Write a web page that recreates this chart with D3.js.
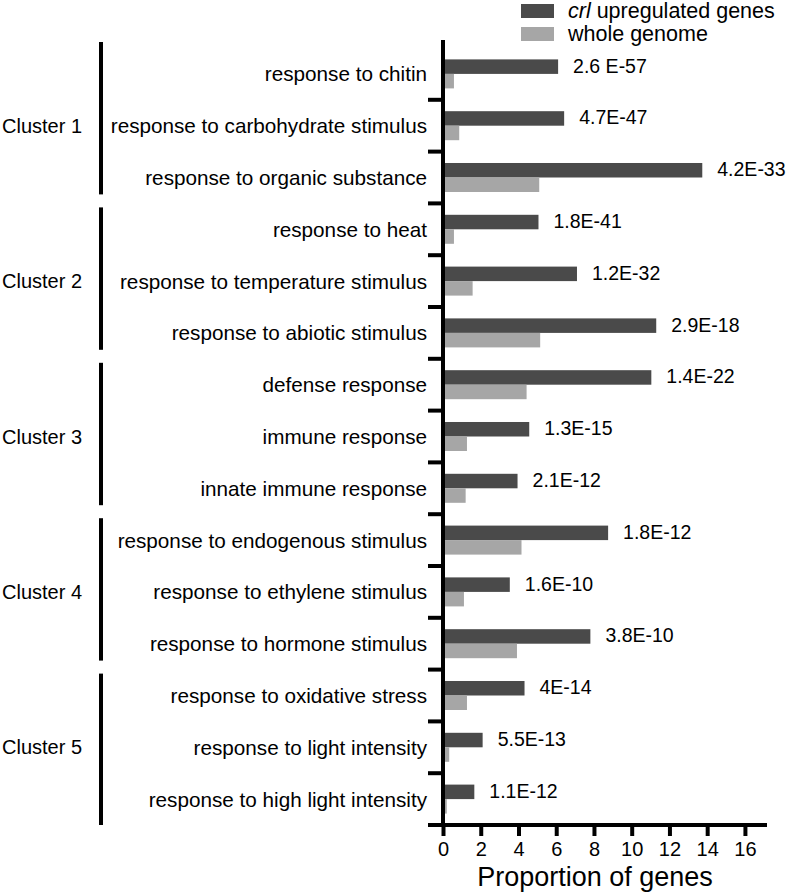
<!DOCTYPE html>
<html>
<head>
<meta charset="utf-8">
<script src="https://cdn.jsdelivr.net/npm/d3@7"></script>
<style>
  html, body { margin: 0; padding: 0; background: #fff; }
  svg text { font-family: "Liberation Sans", Arial, Helvetica, sans-serif; fill: #000; }
</style>
</head>
<body>
<svg id="chart" width="793" height="894"></svg>
<script>
const categories = [
  "response to chitin",
  "response to carbohydrate stimulus",
  "response to organic substance",
  "response to heat",
  "response to temperature stimulus",
  "response to abiotic stimulus",
  "defense response",
  "immune response",
  "innate immune response",
  "response to endogenous stimulus",
  "response to ethylene stimulus",
  "response to hormone stimulus",
  "response to oxidative stress",
  "response to light intensity",
  "response to high light intensity"
];
const upregulated = [6.1, 6.42, 13.74, 5.06, 7.1, 11.3, 11.04, 4.57, 3.95, 8.75, 3.54, 7.81, 4.32, 2.1, 1.66];
const genome = [0.58, 0.86, 5.1, 0.58, 1.57, 5.15, 4.43, 1.27, 1.2, 4.16, 1.11, 3.92, 1.27, 0.33, 0.2];
const pvalues = ["2.6 E-57", "4.7E-47", "4.2E-33", "1.8E-41", "1.2E-32", "2.9E-18", "1.4E-22", "1.3E-15", "2.1E-12", "1.8E-12", "1.6E-10", "3.8E-10", "4E-14", "5.5E-13", "1.1E-12"];
const clusters = ["Cluster 1", "Cluster 2", "Cluster 3", "Cluster 4", "Cluster 5"];
const clusterSizes = [3, 3, 3, 3, 3];
const xTicks = [0, 2, 4, 6, 8, 10, 12, 14, 16];
const seriesKeys = ["upregulated", "genome"];
const seriesColors = ["#4a4a4a", "#a6a6a6"];
const xTitle = "Proportion of genes";

const svg = d3.select("#chart");

const axisX0 = 443, plotTop = 48, plotBottom = 825;
const x = d3.scaleLinear().domain([0, 17.17]).range([axisX0, 767]);
const y = d3.scaleBand().domain(categories).range([plotTop, plotBottom]).paddingInner(0.44).paddingOuter(0.22);
const ySub = d3.scaleBand().domain(seriesKeys).range([0, y.bandwidth()]);
const color = d3.scaleOrdinal().domain(seriesKeys).range(seriesColors);

const rows = categories.map((c, i) => ({ c, upregulated: upregulated[i], genome: genome[i], p: pvalues[i] }));

// bars
const g = svg.append("g");
rows.forEach(r => {
  seriesKeys.forEach(k => {
    g.append("rect")
      .attr("x", x(0))
      .attr("y", y(r.c) + ySub(k))
      .attr("width", x(r[k]) - x(0))
      .attr("height", ySub.bandwidth())
      .attr("fill", color(k));
  });
});

// p-value labels
svg.append("g").selectAll("text").data(rows).join("text")
  .attr("x", d => x(d.upregulated) + 15)
  .attr("y", d => y(d.c) + ySub("upregulated") + ySub.bandwidth() / 2 - 1)
  .attr("dominant-baseline", "central")
  .style("font-size", "19.5px")
  .text(d => d.p);

// category labels
const step = y.step();
const bandStart = i => plotTop + i * step;
svg.append("g").selectAll("text").data(rows).join("text")
  .attr("x", 427)
  .attr("y", (d, i) => bandStart(i) + step / 2)
  .attr("text-anchor", "end")
  .attr("dominant-baseline", "central")
  .style("font-size", "20.7px")
  .text(d => d.c);

// y axis line and boundary ticks
svg.append("line")
  .attr("x1", axisX0).attr("x2", axisX0)
  .attr("y1", 40).attr("y2", plotBottom + 2)
  .attr("stroke", "#000").attr("stroke-width", 4);
d3.range(1, categories.length).forEach(i => {
  svg.append("line")
    .attr("x1", 428).attr("x2", axisX0)
    .attr("y1", bandStart(i)).attr("y2", bandStart(i))
    .attr("stroke", "#000").attr("stroke-width", 4);
});

// x axis
const xAxis = d3.axisBottom(x).tickValues(xTicks).tickSize(11).tickSizeOuter(0).tickFormat(d3.format("d"));
const gx = svg.append("g").attr("transform", `translate(0,${plotBottom})`).call(xAxis);
gx.select(".domain").remove();
gx.selectAll(".tick line").attr("stroke", "#000").attr("stroke-width", 4);
gx.selectAll(".tick text").attr("dy", null).attr("y", 31).style("font-size", "20px")
  .style("font-family", "'Liberation Sans', Arial, sans-serif").attr("fill", "#000");
svg.append("line")
  .attr("x1", 428).attr("x2", 767)
  .attr("y1", plotBottom).attr("y2", plotBottom)
  .attr("stroke", "#000").attr("stroke-width", 4);

svg.append("text")
  .attr("x", (x(0) + x(16)) / 2 + 1)
  .attr("y", 886)
  .attr("text-anchor", "middle")
  .style("font-size", "27px")
  .text(xTitle);

// clusters
let idx = 0;
clusters.forEach((name, ci) => {
  const start = bandStart(idx);
  const end = bandStart(idx + clusterSizes[ci]);
  const top = ci === 0 ? 42 : start + 4;
  const bot = ci === clusters.length - 1 ? plotBottom : end - 9;
  svg.append("line")
    .attr("x1", 101).attr("x2", 101)
    .attr("y1", top).attr("y2", bot)
    .attr("stroke", "#000").attr("stroke-width", 4);
  svg.append("text")
    .attr("x", 2)
    .attr("y", (start + end) / 2)
    .attr("dominant-baseline", "central")
    .style("font-size", "20px")
    .text(name);
  idx += clusterSizes[ci];
});

// legend
const legendLabels = [["crl", " upregulated genes"], [null, "whole genome"]];
seriesKeys.forEach((k, i) => {
  const ly = 4 + i * 23;
  svg.append("rect").attr("x", 521).attr("y", ly).attr("width", 33).attr("height", 14).attr("fill", color(k));
  const t = svg.append("text").attr("x", 568).attr("y", ly + 7).attr("dominant-baseline", "central").style("font-size", "21.5px");
  if (legendLabels[i][0]) t.append("tspan").style("font-style", "italic").text(legendLabels[i][0]);
  t.append("tspan").text(legendLabels[i][1]);
});
</script>
</body>
</html>
